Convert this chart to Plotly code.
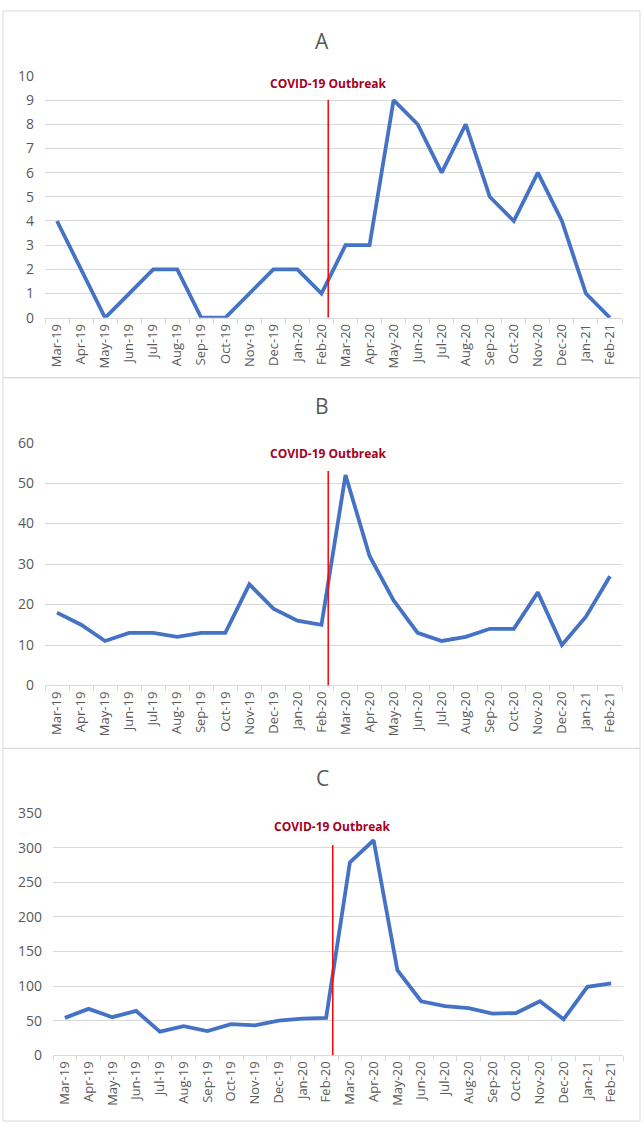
import plotly.graph_objects as go

# Monthly categories shared by the three panels
months = ['Mar-19', 'Apr-19', 'May-19', 'Jun-19', 'Jul-19', 'Aug-19', 'Sep-19', 'Oct-19',
          'Nov-19', 'Dec-19', 'Jan-20', 'Feb-20', 'Mar-20', 'Apr-20', 'May-20', 'Jun-20',
          'Jul-20', 'Aug-20', 'Sep-20', 'Oct-20', 'Nov-20', 'Dec-20', 'Jan-21', 'Feb-21']

# Panel values
values_a = [4, 2, 0, 1, 2, 2, 0, 0, 1, 2, 2, 1, 3, 3, 9, 8, 6, 8, 5, 4, 6, 4, 1, 0]
values_b = [18, 15, 11, 13, 13, 12, 13, 13, 25, 19, 16, 15, 52, 32, 21, 13, 11, 12, 14, 14, 23, 10, 17, 27]
values_c = [54, 67, 55, 64, 34, 42, 35, 45, 43, 50, 53, 54, 279, 311, 123, 78, 71, 68, 60, 61, 78, 52, 99, 104]

panel_titles = ['A', 'B', 'C']
y_ranges = [[0, 10], [0, 60], [0, 350]]
y_dticks = [1, 10, 50]
outbreak_label = 'COVID-19 Outbreak'
outbreak_pos = 11.28          # between Feb-20 and Mar-20
outbreak_tops = [9, 53, 304]
label_heights = [9.67, 57.3, 331]

W, H = 644, 1133
def px(x): return x / W
def py(y): return 1 - y / H

# pixel boxes of each panel: (plot left, plot right, plot top, plot bottom, frame top, frame bottom, title y)
boxes = [
    (45, 622, 67, 313, 1, 374, 32),
    (45, 622, 440, 687, 374, 751, 403),
    (53, 623, 817, 1063, 751, 1130, 781),
]

LINE = '#4472C4'
GREY = '#595959'
GRID = '#D9D9D9'
FONT = 'Open Sans'

fig = go.Figure()
shapes = []
annotations = []
series = [values_a, values_b, values_c]

for i, vals in enumerate(series):
    n = '' if i == 0 else str(i + 1)
    left, right, top, bottom, ftop, fbot, ty = boxes[i]
    fig.add_trace(go.Scatter(x=months, y=vals, mode='lines',
                             line=dict(color=LINE, width=3.8),
                             xaxis='x' + n, yaxis='y' + n, showlegend=False))

    fig.update_layout(**{
        'xaxis' + n: dict(domain=[px(left), px(right)], anchor='y' + n,
                          type='category', categoryorder='array', categoryarray=months,
                          tickangle=-90, tickson='boundaries', ticks='outside',
                          ticklen=5, tickcolor=GRID, showline=True, linecolor=GRID,
                          linewidth=1, showgrid=False, range=[-0.5, 23.5],
                          tickfont=dict(family=FONT, size=13, color=GREY)),
        'yaxis' + n: dict(domain=[py(bottom), py(top)], anchor='x' + n,
                          range=y_ranges[i], dtick=y_dticks[i], showgrid=True,
                          gridcolor=GRID, gridwidth=1, zeroline=False, showline=False,
                          ticks='', ticklabelstandoff=10,
                          tickfont=dict(family=FONT, size=14, color=GREY)),
    })

    # panel frame
    shapes.append(dict(type='rect', xref='paper', yref='paper',
                       x0=px(3), x1=px(640), y0=py(fbot), y1=py(ftop),
                       line=dict(color=GRID, width=1), fillcolor='rgba(0,0,0,0)', layer='below'))
    # outbreak marker
    shapes.append(dict(type='line', xref='x' + n, yref='y' + n,
                       x0=outbreak_pos, x1=outbreak_pos, y0=0, y1=outbreak_tops[i],
                       line=dict(color='#FF0000', width=1.5)))
    annotations.append(dict(xref='x' + n, yref='y' + n, x=outbreak_pos, y=label_heights[i],
                            text='<b>' + outbreak_label + '</b>', showarrow=False,
                            font=dict(family=FONT, size=12, color='#A50021')))
    annotations.append(dict(xref='paper', yref='paper', x=px(322), y=py(ty),
                            text=panel_titles[i], showarrow=False,
                            xanchor='center', yanchor='middle',
                            font=dict(family=FONT, size=21, color=GREY)))

fig.update_layout(width=W, height=H, margin=dict(l=0, r=0, t=0, b=0),
                  plot_bgcolor='white', paper_bgcolor='white',
                  shapes=shapes, annotations=annotations)

# drop the default page margin so the figure sits at the window's corner
fig.write_html("out.html", config={'displayModeBar': False},
               post_script="document.body.style.margin='0';")
